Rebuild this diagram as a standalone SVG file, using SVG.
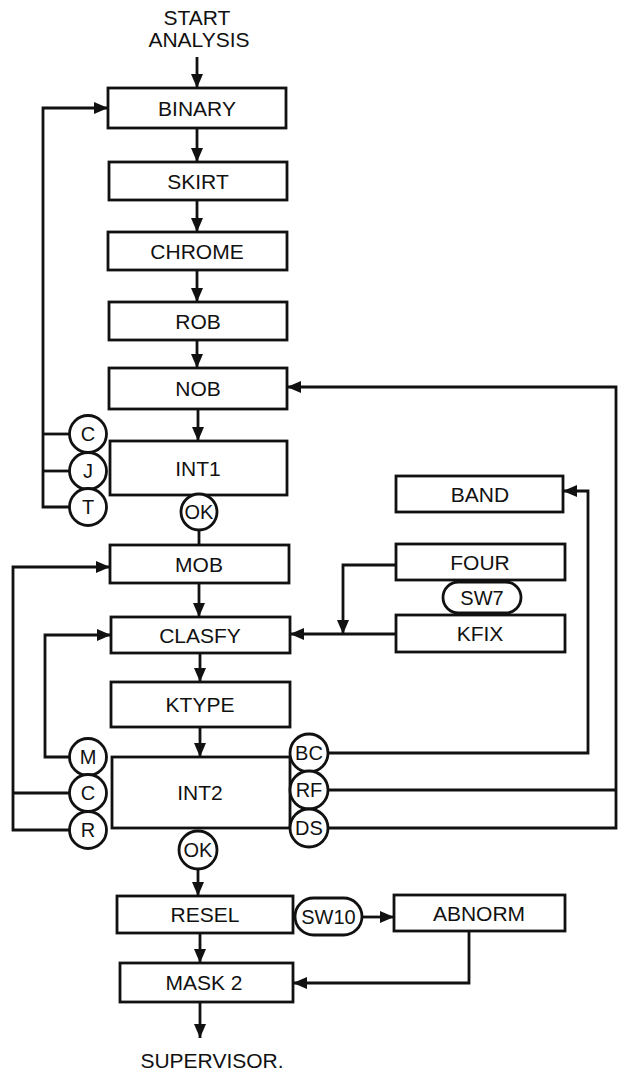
<svg xmlns="http://www.w3.org/2000/svg" width="618" height="1074" viewBox="0 0 618 1074">
<style>
.box{fill:#fff;stroke:#111;stroke-width:2.8}
.cir{fill:#fff;stroke:#111;stroke-width:2.8}
.ln{fill:none;stroke:#111;stroke-width:2.8}
.t{font-family:"Liberation Sans",Arial,sans-serif;font-size:21px;fill:#111;text-anchor:middle}
.c{font-family:"Liberation Sans",Arial,sans-serif;font-size:20px;fill:#111;text-anchor:middle}
</style>
<defs>
<marker id="ah" viewBox="0 0 14 12" refX="14" refY="6" markerWidth="14" markerHeight="12" markerUnits="userSpaceOnUse" orient="auto"><path d="M0,0 L14,6 L0,12 z" fill="#111"/></marker>
</defs>
<rect width="618" height="1074" fill="#fff"/>
<g id="connectors">
<path class="ln" d="M197,57 V88" marker-end="url(#ah)"/>
<path class="ln" d="M197,128 V162" marker-end="url(#ah)"/>
<path class="ln" d="M197,200 V232" marker-end="url(#ah)"/>
<path class="ln" d="M197,270 V302" marker-end="url(#ah)"/>
<path class="ln" d="M197,340 V368" marker-end="url(#ah)"/>
<path class="ln" d="M198,409 V441" marker-end="url(#ah)"/>
<path class="ln" d="M199,530 V545"/>
<path class="ln" d="M199,583 V617" marker-end="url(#ah)"/>
<path class="ln" d="M200,653 V682" marker-end="url(#ah)"/>
<path class="ln" d="M200,727 V757" marker-end="url(#ah)"/>
<path class="ln" d="M198,869 V896" marker-end="url(#ah)"/>
<path class="ln" d="M200,933 V963" marker-end="url(#ah)"/>
<path class="ln" d="M200,1002 V1038" marker-end="url(#ah)"/>
<path class="ln" d="M362,917 H394" marker-end="url(#ah)"/>
<path class="ln" d="M469,931 V983 H293" marker-end="url(#ah)"/>
<path class="ln" d="M70,434 H43"/>
<path class="ln" d="M70,471 H43"/>
<path class="ln" d="M70,507 H43 V108 H108" marker-end="url(#ah)"/>
<path class="ln" d="M70,757 H45 V635 H111" marker-end="url(#ah)"/>
<path class="ln" d="M70,793 H13"/>
<path class="ln" d="M70,830 H13 V567 H110" marker-end="url(#ah)"/>
<path class="ln" d="M328,753 H588 V491 H563" marker-end="url(#ah)"/>
<path class="ln" d="M328,790 H616"/>
<path class="ln" d="M328,828 H616 V387 H287" marker-end="url(#ah)"/>
<path class="ln" d="M396,565 H343 V634" marker-end="url(#ah)"/>
<path class="ln" d="M396,634 H290" marker-end="url(#ah)"/>
</g>
<g id="start"><text class="t" x="197" y="25">START</text><text class="t" x="199" y="47">ANALYSIS</text></g>
<g id="binary"><rect class="box" x="108" y="88" width="178" height="40"/><text class="t" x="197" y="115.5">BINARY</text></g>
<g id="skirt"><rect class="box" x="109" y="162" width="178" height="38"/><text class="t" x="198" y="188.5">SKIRT</text></g>
<g id="chrome"><rect class="box" x="108" y="232" width="179" height="38"/><text class="t" x="197" y="258.5">CHROME</text></g>
<g id="rob"><rect class="box" x="109" y="302" width="178" height="38"/><text class="t" x="198" y="328.5">ROB</text></g>
<g id="nob"><rect class="box" x="109" y="368" width="178" height="41"/><text class="t" x="198" y="396">NOB</text></g>
<g id="int1"><rect class="box" x="110" y="441" width="177" height="54"/><text class="t" x="198" y="475.5">INT1</text>
<circle class="cir" cx="88" cy="434" r="18.5"/><text class="c" x="88" y="441">C</text>
<circle class="cir" cx="88" cy="471" r="18.5"/><text class="c" x="88" y="478">J</text>
<circle class="cir" cx="88" cy="507" r="18.5"/><text class="c" x="88" y="514">T</text>
<circle class="cir" cx="199" cy="512" r="18"/><text class="c" x="199" y="519">OK</text></g>
<g id="mob"><rect class="box" x="110" y="545" width="179" height="38"/><text class="t" x="199" y="571.5">MOB</text></g>
<g id="clasfy"><rect class="box" x="111" y="617" width="179" height="36"/><text class="t" x="200" y="642.5">CLASFY</text></g>
<g id="ktype"><rect class="box" x="111" y="682" width="179" height="45"/><text class="t" x="200" y="712">KTYPE</text></g>
<g id="int2"><rect class="box" x="112" y="757" width="178" height="71"/><text class="t" x="200" y="800">INT2</text>
<circle class="cir" cx="88" cy="757" r="18.5"/><text class="c" x="88" y="764">M</text>
<circle class="cir" cx="88" cy="793" r="18.5"/><text class="c" x="88" y="800">C</text>
<circle class="cir" cx="88" cy="830" r="18.5"/><text class="c" x="88" y="837">R</text>
<circle class="cir" cx="309" cy="753" r="19"/><text class="c" x="309" y="760">BC</text>
<circle class="cir" cx="309" cy="790" r="19"/><text class="c" x="309" y="797">RF</text>
<circle class="cir" cx="309" cy="828" r="19"/><text class="c" x="309" y="835">DS</text>
<circle class="cir" cx="198" cy="850" r="19"/><text class="c" x="198" y="857">OK</text></g>
<g id="band"><rect class="box" x="396" y="476" width="167" height="36"/><text class="t" x="480" y="501.5">BAND</text></g>
<g id="four"><rect class="box" x="396" y="544" width="169" height="36"/><text class="t" x="480" y="569.5">FOUR</text></g>
<g id="sw7"><rect class="box" x="443" y="582" width="78" height="31" rx="15.5"/><text class="c" x="482" y="604.5">SW7</text></g>
<g id="kfix"><rect class="box" x="396" y="615" width="169" height="37"/><text class="t" x="480" y="641">KFIX</text></g>
<g id="resel"><rect class="box" x="117" y="896" width="176" height="37"/><text class="t" x="205" y="922">RESEL</text></g>
<g id="sw10"><rect class="box" x="295" y="898" width="67" height="37" rx="18.5"/><text class="c" x="328.5" y="923.5">SW10</text></g>
<g id="abnorm"><rect class="box" x="394" y="895" width="171" height="36"/><text class="t" x="479" y="920.5">ABNORM</text></g>
<g id="mask2"><rect class="box" x="120" y="963" width="173" height="39"/><text class="t" x="204" y="990">MASK  2</text></g>
<g id="supervisor"><text class="t" x="212" y="1068">SUPERVISOR.</text></g>
</svg>
